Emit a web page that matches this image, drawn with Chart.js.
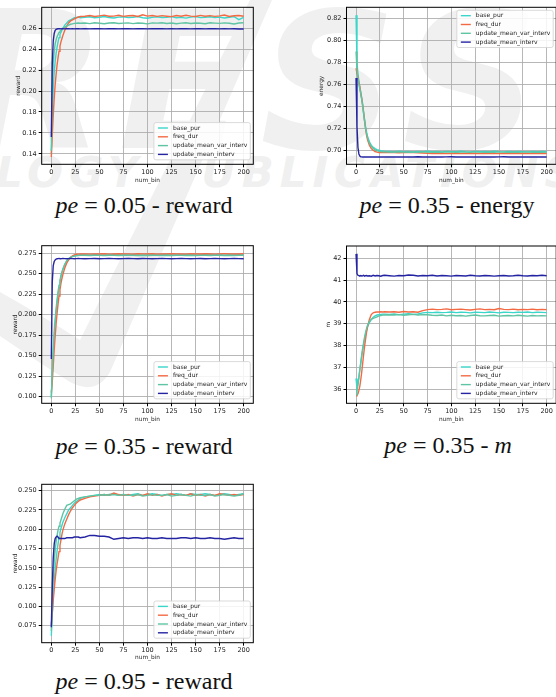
<!DOCTYPE html>
<html>
<head>
<meta charset="utf-8">
<script src="https://cdn.jsdelivr.net/npm/chart.js@4.4.0/dist/chart.umd.min.js"></script>
<style>
body { margin: 0; background: #fff; width: 556px; height: 697px; overflow: hidden; position: relative; }
canvas { position: absolute; }
.cap { position: absolute; font-family: "Liberation Serif", serif; font-size: 24px; line-height: 1; white-space: nowrap; transform: translateX(-50%); color: #111; }
.wm { position: absolute; font-family: "DejaVu Sans", sans-serif; font-weight: bold; font-style: italic; color: #f0f0f0; white-space: nowrap; line-height: 1; }
#swoosh { position: absolute; left: 0; top: 0; }
</style>
</head>
<body>
<div class="wm" style="left:-40px; top:-12px; font-size:190px; letter-spacing:12px;">RESS</div>
<div class="wm" style="left:-4px; top:152px; font-size:42px; letter-spacing:6px;">LOGY PUBLICATIONS</div>
<svg id="swoosh" width="556" height="697">
  <path d="M250 0 L272 0 L110 372 Q96 396 70 382 Q38 362 0 336 L0 292 Q46 318 80 340 Z" fill="#f0f0f0"/>
</svg>

<div class="cap" style="left:144px; top:193px;"><i>pe</i> = 0.05 - reward</div>
<div class="cap" style="left:447px; top:193px;"><i>pe</i> = 0.35 - energy</div>
<div class="cap" style="left:144px; top:434px;"><i>pe</i> = 0.35 - reward</div>
<div class="cap" style="left:448px; top:433px;"><i>pe</i> = 0.35 - <i>m</i></div>
<div class="cap" style="left:144px; top:669px;"><i>pe</i> = 0.95 - reward</div>

<script>
// x positions of the sampled bins (shared by all panels)
const bins = [0,1,2,3,4,5,6,7,8,9,10,11,12,
  14,16,18,20,22,24,26,28,30,
  35,40,45,50,55,60,65,70,75,80,
  85,90,95,100,105,110,115,120,125,130,
  135,140,145,150,155,160,165,170,175,180,
  185,190,195,200];
const xTicks = [0,25,50,75,100,125,150,175,200];
const seriesNames = ['base_pur','freq_dur','update_mean_var_interv','update_mean_interv'];
const seriesColors = ['#3ad6ca','#f26a44','#5fc4a3','#2424a2'];

// pe = 0.05 - reward
const r05Base = [0.140,0.178,0.203,0.218,0.228,0.236,0.242,0.247,0.251,0.254,0.256,0.258,0.260,
  0.263,0.265,0.267,0.268,0.269,0.270,0.270,0.271,0.270,
  0.2705,0.2710,0.2700,0.2705,0.2712,0.2703,0.2698,0.2706,0.2710,0.2702,
  0.2705,0.2712,0.2700,0.2696,0.2704,0.2710,0.2702,0.2705,0.2711,0.2700,
  0.2704,0.2697,0.2706,0.2712,0.2701,0.2705,0.2710,0.2702,0.2706,0.2698,
  0.2705,0.2711,0.2682,0.2703];
const r05Freq = [0.137,0.158,0.177,0.193,0.206,0.216,0.225,0.232,0.238,0.243,0.247,0.250,0.253,
  0.258,0.262,0.265,0.267,0.268,0.269,0.270,0.2705,0.2712,
  0.2715,0.2722,0.2712,0.2718,0.2725,0.2714,0.2716,0.2724,0.2713,0.2719,
  0.2722,0.2712,0.2728,0.2716,0.2721,0.2713,0.2720,0.2715,0.2711,0.2722,
  0.2714,0.2724,0.2716,0.2712,0.2723,0.2715,0.2720,0.2713,0.2718,0.2726,
  0.2712,0.2719,0.2722,0.2714];
const r05Var = [0.143,0.198,0.226,0.238,0.245,0.249,0.252,0.254,0.256,0.257,0.258,0.259,0.260,
  0.261,0.262,0.263,0.2638,0.2642,0.2646,0.2648,0.2650,0.2648,
  0.2650,0.2644,0.2652,0.2648,0.2643,0.2650,0.2653,0.2645,0.2649,0.2651,
  0.2644,0.2650,0.2648,0.2642,0.2651,0.2649,0.2653,0.2645,0.2650,0.2643,
  0.2649,0.2652,0.2645,0.2650,0.2648,0.2643,0.2652,0.2649,0.2646,0.2651,
  0.2648,0.2641,0.2650,0.2653];
const r05Mean = [0.156,0.226,0.248,0.2550,0.2580,0.2590,0.2593,0.2595,0.2596,0.2595,0.2594,0.2595,0.2595,
  0.2594,0.2595,0.2596,0.2594,0.2595,0.2594,0.2596,0.2595,0.2594,
  0.2595,0.2594,0.2596,0.2595,0.2594,0.2595,0.2596,0.2594,0.2595,0.2595,
  0.2594,0.2596,0.2595,0.2594,0.2595,0.2595,0.2596,0.2594,0.2595,0.2594,
  0.2595,0.2596,0.2594,0.2595,0.2595,0.2594,0.2596,0.2595,0.2594,0.2595,
  0.2594,0.2595,0.2593,0.2592];
const r05Ticks = [0.14,0.16,0.18,0.20,0.22,0.24,0.26];

// pe = 0.35 - energy
const e35Base = [0.823,0.780,0.770,0.763,0.758,0.753,0.748,0.742,0.735,0.728,0.722,0.717,0.713,
  0.708,0.705,0.7030,0.7018,0.7010,0.7004,0.7000,0.6997,0.6995,
  0.6993,0.6991,0.6994,0.6990,0.6992,0.6989,0.6993,0.6991,0.6994,0.6990,
  0.6992,0.6989,0.6993,0.6991,0.6990,0.6994,0.6991,0.6989,0.6993,0.6990,
  0.6992,0.6990,0.6994,0.6991,0.6989,0.6992,0.6990,0.6993,0.6991,0.6989,
  0.6992,0.6990,0.6993,0.6991];
const e35Freq = [0.775,0.770,0.767,0.762,0.758,0.752,0.747,0.741,0.734,0.727,0.720,0.714,0.710,
  0.705,0.702,0.7003,0.6992,0.6986,0.6983,0.6982,0.6982,0.6983,
  0.6982,0.6983,0.6981,0.6982,0.6983,0.6982,0.6981,0.6978,0.6975,0.6974,
  0.6974,0.6975,0.6973,0.6974,0.6975,0.6973,0.6974,0.6975,0.6974,0.6973,
  0.6974,0.6975,0.6974,0.6973,0.6975,0.6974,0.6973,0.6974,0.6975,0.6974,
  0.6973,0.6974,0.6975,0.6974];
const e35Var = [0.790,0.774,0.766,0.760,0.756,0.751,0.746,0.740,0.733,0.726,0.720,0.716,0.712,
  0.707,0.704,0.7020,0.7008,0.7000,0.6995,0.6991,0.6990,0.6989,
  0.6988,0.6986,0.6989,0.6987,0.6985,0.6988,0.6986,0.6989,0.6987,0.6985,
  0.6988,0.6986,0.6989,0.6987,0.6985,0.6988,0.6987,0.6986,0.6989,0.6987,
  0.6985,0.6988,0.6986,0.6989,0.6987,0.6985,0.6988,0.6986,0.6987,0.6989,
  0.6986,0.6988,0.6985,0.6987];
const e35Mean = [0.766,0.722,0.703,0.6970,0.6950,0.6944,0.6943,0.6942,0.6943,0.6942,0.6943,0.6942,0.6943,
  0.6942,0.6943,0.6942,0.6943,0.6942,0.6943,0.6942,0.6943,0.6942,
  0.6943,0.6942,0.6943,0.6942,0.6943,0.6942,0.6944,0.6942,0.6943,0.6942,
  0.6943,0.6942,0.6943,0.6944,0.6942,0.6943,0.6942,0.6943,0.6942,0.6943,
  0.6942,0.6943,0.6942,0.6943,0.6944,0.6942,0.6943,0.6942,0.6943,0.6942,
  0.6943,0.6942,0.6943,0.6942];
const e35Ticks = [0.70,0.72,0.74,0.76,0.78,0.80,0.82];

// pe = 0.35 - reward
const r35Base = [0.100,0.128,0.152,0.172,0.189,0.203,0.215,0.225,0.233,0.240,0.246,0.251,0.255,
  0.261,0.265,0.268,0.2700,0.2712,0.2720,0.2725,0.2728,0.2730,
  0.2731,0.2728,0.2732,0.2730,0.2727,0.2731,0.2733,0.2729,0.2731,0.2728,
  0.2732,0.2730,0.2727,0.2731,0.2733,0.2729,0.2730,0.2732,0.2728,0.2731,
  0.2729,0.2733,0.2730,0.2727,0.2731,0.2732,0.2729,0.2730,0.2733,0.2728,
  0.2731,0.2729,0.2732,0.2730];
const r35Freq = [0.105,0.118,0.138,0.157,0.174,0.189,0.202,0.213,0.223,0.231,0.238,0.244,0.249,
  0.257,0.263,0.267,0.2700,0.2720,0.2732,0.2738,0.2740,0.2741,
  0.2742,0.2740,0.2743,0.2741,0.2744,0.2740,0.2742,0.2745,0.2741,0.2743,
  0.2740,0.2744,0.2742,0.2741,0.2745,0.2740,0.2743,0.2742,0.2744,0.2741,
  0.2743,0.2740,0.2744,0.2742,0.2741,0.2745,0.2742,0.2740,0.2743,0.2744,
  0.2741,0.2743,0.2742,0.2744];
const r35Var = [0.098,0.132,0.158,0.178,0.195,0.208,0.219,0.228,0.236,0.242,0.248,0.252,0.256,
  0.262,0.266,0.2685,0.2700,0.2710,0.2716,0.2720,0.2723,0.2725,
  0.2726,0.2724,0.2727,0.2725,0.2723,0.2727,0.2725,0.2724,0.2726,0.2728,
  0.2725,0.2723,0.2726,0.2724,0.2727,0.2725,0.2723,0.2726,0.2724,0.2727,
  0.2725,0.2724,0.2726,0.2723,0.2725,0.2727,0.2724,0.2726,0.2725,0.2723,
  0.2726,0.2724,0.2725,0.2727];
const r35Mean = [0.146,0.240,0.260,0.2650,0.2670,0.2680,0.2684,0.2685,0.2686,0.2685,0.2684,0.2685,0.2686,
  0.2685,0.2684,0.2685,0.2686,0.2685,0.2684,0.2685,0.2686,0.2685,
  0.2684,0.2685,0.2686,0.2684,0.2685,0.2686,0.2685,0.2684,0.2685,0.2686,
  0.2685,0.2684,0.2686,0.2685,0.2684,0.2685,0.2686,0.2685,0.2684,0.2685,
  0.2686,0.2685,0.2684,0.2685,0.2686,0.2684,0.2685,0.2686,0.2685,0.2684,
  0.2685,0.2686,0.2685,0.2684];
const r35Ticks = [0.100,0.125,0.150,0.175,0.200,0.225,0.250,0.275];

// pe = 0.35 - m
const m35Base = [36.50,36.05,36.25,36.55,36.90,37.20,37.50,37.80,38.05,38.30,38.50,38.70,38.85,
  39.05,39.20,39.30,39.36,39.40,39.42,39.43,39.44,39.44,
  39.43,39.45,39.42,39.44,39.46,39.43,39.45,39.50,39.52,39.51,
  39.53,39.51,39.52,39.54,39.51,39.53,39.52,39.50,39.53,39.52,
  39.51,39.54,39.52,39.50,39.53,39.52,39.51,39.53,39.52,39.54,
  39.51,39.53,39.52,39.51];
const m35Freq = [35.70,35.72,35.80,35.95,36.15,36.45,36.80,37.20,37.60,37.98,38.30,38.60,38.85,
  39.20,39.42,39.50,39.53,39.54,39.54,39.55,39.54,39.55,
  39.54,39.55,39.53,39.56,39.54,39.55,39.53,39.60,39.65,39.67,
  39.65,39.66,39.68,39.64,39.66,39.67,39.65,39.63,39.66,39.68,
  39.65,39.66,39.64,39.70,39.66,39.65,39.67,39.64,39.66,39.65,
  39.67,39.64,39.66,39.65];
const m35Var = [35.75,35.90,36.20,36.55,36.90,37.25,37.60,37.90,38.15,38.40,38.60,38.78,38.92,
  39.10,39.20,39.25,39.28,39.32,39.36,39.38,39.40,39.40,
  39.41,39.40,39.42,39.39,39.41,39.43,39.40,39.42,39.41,39.39,
  39.38,39.40,39.36,39.39,39.37,39.38,39.35,39.38,39.40,39.37,
  39.36,39.38,39.39,39.35,39.37,39.38,39.36,39.39,39.37,39.35,
  39.38,39.36,39.37,39.36];
const m35Mean = [42.20,41.30,41.22,41.20,41.18,41.21,41.19,41.20,41.22,41.18,41.20,41.21,41.19,
  41.20,41.18,41.22,41.19,41.21,41.20,41.18,41.21,41.22,
  41.20,41.18,41.21,41.20,41.23,41.22,41.19,41.21,41.20,41.22,
  41.19,41.21,41.20,41.18,41.21,41.20,41.19,41.22,41.20,41.19,
  41.21,41.20,41.18,41.20,41.21,41.19,41.20,41.22,41.20,41.19,
  41.21,41.20,41.22,41.20];
const m35Ticks = [36,37,38,39,40,41,42];

// pe = 0.95 - reward
const r95Base = [0.062,0.090,0.113,0.132,0.148,0.161,0.172,0.181,0.189,0.196,0.201,0.205,0.209,
  0.215,0.220,0.225,0.228,0.231,0.234,0.236,0.238,0.240,
  0.242,0.243,0.244,0.245,0.244,0.245,0.246,0.244,0.245,0.244,
  0.245,0.246,0.244,0.245,0.246,0.245,0.244,0.245,0.245,0.246,
  0.245,0.244,0.246,0.245,0.245,0.246,0.245,0.244,0.245,0.246,
  0.245,0.244,0.245,0.246];
const r95Freq = [0.075,0.092,0.108,0.122,0.135,0.146,0.155,0.163,0.171,0.179,0.186,0.193,0.199,
  0.207,0.213,0.219,0.224,0.228,0.231,0.234,0.236,0.238,
  0.240,0.242,0.243,0.244,0.245,0.244,0.247,0.245,0.244,0.245,
  0.243,0.245,0.244,0.246,0.244,0.245,0.243,0.245,0.246,0.244,
  0.245,0.244,0.246,0.244,0.245,0.243,0.245,0.244,0.246,0.245,
  0.244,0.245,0.244,0.245];
const r95Var = [0.068,0.108,0.137,0.158,0.173,0.184,0.192,0.199,0.204,0.208,0.212,0.216,0.220,
  0.226,0.231,0.232,0.233,0.235,0.237,0.239,0.240,0.241,
  0.242,0.243,0.244,0.244,0.245,0.244,0.245,0.244,0.245,0.244,
  0.244,0.245,0.243,0.244,0.245,0.244,0.244,0.245,0.243,0.244,
  0.245,0.244,0.243,0.245,0.244,0.244,0.245,0.243,0.244,0.245,
  0.244,0.243,0.244,0.246];
const r95Mean = [0.073,0.125,0.163,0.181,0.188,0.190,0.191,0.190,0.188,0.188,0.188,0.188,0.188,
  0.188,0.189,0.189,0.189,0.189,0.190,0.190,0.190,0.189,
  0.190,0.192,0.192,0.191,0.191,0.190,0.187,0.188,0.189,0.188,
  0.189,0.189,0.188,0.189,0.188,0.188,0.189,0.188,0.188,0.188,
  0.189,0.189,0.188,0.189,0.188,0.188,0.189,0.188,0.188,0.187,
  0.188,0.189,0.188,0.188];
const r95Ticks = [0.075,0.100,0.125,0.150,0.175,0.200,0.225,0.250];

// black box round the plot area, like the matplotlib spines
const frame = {
  id: 'frame',
  afterDatasetsDraw(chart) {
    const {ctx, chartArea: a} = chart;
    ctx.save();
    ctx.strokeStyle = '#000';
    ctx.lineWidth = 1;
    ctx.strokeRect(a.left, a.top, a.right - a.left, a.bottom - a.top);
    ctx.restore();
  }
};

// legend drawn inside the plot area
const insideLegend = {
  id: 'insideLegend',
  afterDatasetsDraw(chart, args, opts) {
    const {ctx, chartArea: a} = chart;
    const sets = chart.data.datasets;
    ctx.save();
    ctx.font = '6px "DejaVu Sans"';
    const rowH = 8.8;
    const tw = Math.max(...sets.map(d => ctx.measureText(d.label).width));
    const w = 4 + 10 + 5 + tw + 3;
    const h = sets.length * rowH + 2;
    const x = a.right - 3 - w;
    const y = opts.pos === 'upper' ? a.top + 3 : a.bottom - 4.5 - h;
    ctx.beginPath();
    ctx.roundRect(x, y, w, h, 2);
    ctx.fillStyle = 'rgba(255,255,255,0.85)';
    ctx.fill();
    ctx.strokeStyle = '#d0d0d0';
    ctx.lineWidth = 0.8;
    ctx.stroke();
    sets.forEach((d, i) => {
      const cy = y + 1 + rowH * (i + 0.5);
      ctx.strokeStyle = d.borderColor;
      ctx.lineWidth = 1.4;
      ctx.beginPath();
      ctx.moveTo(x + 4, cy);
      ctx.lineTo(x + 14, cy);
      ctx.stroke();
      ctx.fillStyle = '#222';
      ctx.textBaseline = 'middle';
      ctx.fillText(d.label, x + 19, cy);
    });
    ctx.restore();
  }
};

const panels = [
  {series: [r05Base, r05Freq, r05Var, r05Mean], yTicks: r05Ticks, dec: 2, yMin: 0.130, yMax: 0.280,
   yTitle: 'reward', legend: 'lower', area: {l: 41.7, t: 7.3, r: 253.3, b: 164.3}, yTitleX: 19.3, xTitleY: 180, padR: 6},
  {series: [e35Base, e35Freq, e35Var, e35Mean], yTicks: e35Ticks, dec: 2, yMin: 0.6876, yMax: 0.8302,
   yTitle: 'energy', legend: 'upper', area: {l: 346.5, t: 7.3, r: 556.2, b: 164.3}, yTitleX: 322.3, xTitleY: 180, padR: 1},
  {series: [r35Base, r35Freq, r35Var, r35Mean], yTicks: r35Ticks, dec: 3, yMin: 0.092, yMax: 0.2843,
   yTitle: 'reward', legend: 'lower', area: {l: 41.7, t: 245.7, r: 253.3, b: 403.3}, yTitleX: 15.7, xTitleY: 419, padR: 6},
  {series: [m35Base, m35Freq, m35Var, m35Mean], yTicks: m35Ticks, dec: 0, yMin: 35.36, yMax: 42.56,
   yTitle: 'm', legend: 'lower', area: {l: 346.5, t: 246, r: 556.2, b: 403.3}, yTitleX: 329, xTitleY: 419, padR: 1},
  {series: [r95Base, r95Freq, r95Var, r95Mean], yTicks: r95Ticks, dec: 3, yMin: 0.053, yMax: 0.2583,
   yTitle: 'reward', legend: 'lower', area: {l: 41.7, t: 484.3, r: 253.3, b: 642.7}, yTitleX: 15.7, xTitleY: 656.7, padR: 6}
];

const tickFont = {family: 'DejaVu Sans', size: 6.5};
const titleFont = {family: 'DejaVu Sans', size: 5.8};

function makePanel(p) {
  const lh = titleFont.size * 1.2;
  const left = Math.floor(p.yTitleX - lh / 2 - 1);
  const top = Math.floor(p.area.t - 8);
  const w = Math.ceil(p.area.r + p.padR - left);
  const h = Math.ceil(p.xTitleY + lh / 2 + 1 - top);
  const cv = document.createElement('canvas');
  cv.width = w;
  cv.height = h;
  cv.style.left = left + 'px';
  cv.style.top = top + 'px';
  document.body.appendChild(cv);

  const grid = {color: 'rgba(170,170,170,0.85)', lineWidth: 1, tickColor: '#000', tickLength: 3};

  return new Chart(cv, {
    type: 'line',
    data: {
      datasets: p.series.map((s, i) => ({
        label: seriesNames[i],
        data: bins.map((b, j) => ({x: b, y: s[j]})),
        borderColor: seriesColors[i],
        borderWidth: 1.4,
        pointRadius: 0,
        order: 4 - i
      }))
    },
    options: {
      responsive: false,
      animation: false,
      events: [],
      layout: {padding: {top: p.area.t - top, right: left + w - p.area.r, left: 0, bottom: 0}},
      plugins: {
        legend: {display: false},
        tooltip: {enabled: false},
        insideLegend: {pos: p.legend}
      },
      scales: {
        x: {
          type: 'linear', min: -10, max: 210,
          afterBuildTicks: s => { s.ticks = xTicks.map(v => ({value: v})); },
          afterFit: s => { s.height = top + h - p.area.b; },
          ticks: {font: tickFont, color: '#222', padding: 1, maxRotation: 0, autoSkip: false},
          grid: grid,
          border: {display: false},
          title: {display: true, text: 'num_bin', font: titleFont, color: '#222', padding: {top: 0, bottom: 1}}
        },
        y: {
          min: p.yMin, max: p.yMax,
          afterBuildTicks: s => { s.ticks = p.yTicks.map(v => ({value: v})); },
          afterFit: s => { s.width = p.area.l - left; },
          ticks: {font: tickFont, color: '#222', padding: 2, callback: v => v.toFixed(p.dec)},
          grid: grid,
          border: {display: false},
          title: {display: true, text: p.yTitle, font: titleFont, color: '#222', padding: {top: 1, bottom: 0}}
        }
      }
    },
    plugins: [frame, insideLegend]
  });
}

panels.forEach(makePanel);
</script>
</body>
</html>
